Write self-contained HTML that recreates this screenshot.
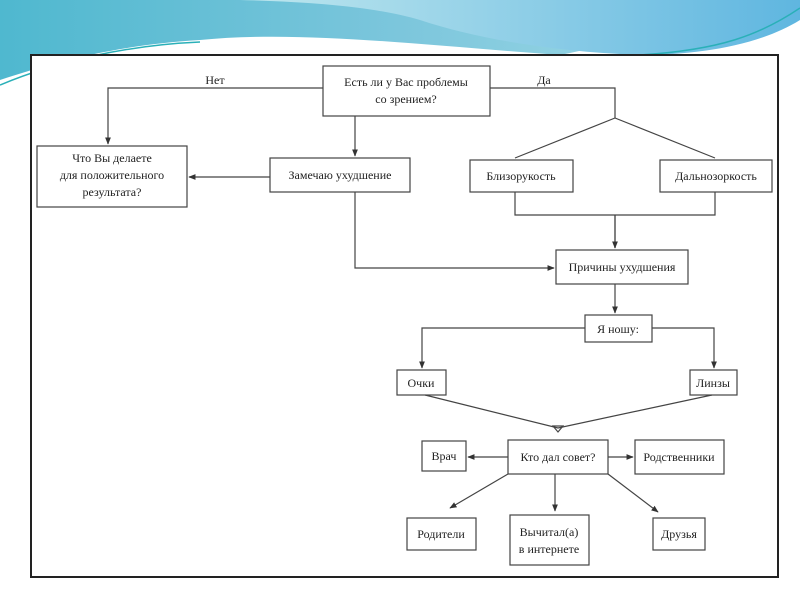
<!DOCTYPE html>
<html><head><meta charset="utf-8"><style>
html,body{margin:0;padding:0;width:800px;height:600px;overflow:hidden;background:#fff}
text{font-family:"Liberation Serif","DejaVu Serif",serif;font-size:12px;fill:#222}
</style></head><body>
<svg width="800" height="600" viewBox="0 0 800 600" xmlns="http://www.w3.org/2000/svg">
<defs>
<linearGradient id="g1" x1="0" y1="0" x2="1" y2="0">
<stop offset="0" stop-color="#4fb8cf"/><stop offset="0.5" stop-color="#7cc6dc"/><stop offset="1" stop-color="#a8dfe9"/>
</linearGradient>
<linearGradient id="g2" x1="0" y1="0" x2="1" y2="0">
<stop offset="0" stop-color="#bfe7ee"/><stop offset="1" stop-color="#5fb6e0"/>
</linearGradient>
<marker id="a" viewBox="0 0 10 10" refX="9" refY="5" markerWidth="6" markerHeight="6" orient="auto"><path d="M0,1 L10,5 L0,9 z" fill="#333"/></marker>
</defs>
<path d="M0,0 H800 V0 C700,10 640,40 560,55 C420,45 300,30 200,40 C120,45 60,60 0,80 Z" fill="url(#g1)"/>
<path d="M240,0 H800 V20 C760,45 700,55 640,55 C560,52 480,40 420,20 C380,8 320,2 240,0 Z" fill="url(#g2)"/>
<path d="M0,85 C60,60 130,45 200,42" stroke="#2ab0b8" stroke-width="1.5" fill="none"/>
<path d="M800,8 C760,35 720,50 640,55" stroke="#2ab0b8" stroke-width="1.5" fill="none"/>
<rect x="31" y="55" width="747" height="522" fill="#fff" stroke="#222" stroke-width="2"/>
<g stroke="#444" stroke-width="1.2" fill="none">
<rect x="323" y="66" width="167" height="50"/>
<rect x="37" y="146" width="150" height="61"/>
<rect x="270" y="158" width="140" height="34"/>
<rect x="470" y="160" width="103" height="32"/>
<rect x="660" y="160" width="112" height="32"/>
<rect x="556" y="250" width="132" height="34"/>
<rect x="585" y="315" width="67" height="27"/>
<rect x="397" y="370" width="49" height="25"/>
<rect x="690" y="370" width="47" height="25"/>
<rect x="508" y="440" width="100" height="34"/>
<rect x="422" y="441" width="44" height="30"/>
<rect x="635" y="440" width="89" height="34"/>
<rect x="407" y="518" width="69" height="32"/>
<rect x="510" y="515" width="79" height="50"/>
<rect x="653" y="518" width="52" height="32"/>
<path d="M323,88 H108 V144" marker-end="url(#a)"/>
<path d="M490,88 H615 V118"/>
<path d="M615,118 L515,158 M615,118 L715,158"/>
<path d="M355,116 V156" marker-end="url(#a)"/>
<path d="M270,177 H189" marker-end="url(#a)"/>
<path d="M515,192 V215 H715 V192 M615,215 V248" />
<path d="M615,215 V248" marker-end="url(#a)"/>
<path d="M355,192 V268 H554" marker-end="url(#a)"/>
<path d="M615,284 V313" marker-end="url(#a)"/>
<path d="M585,328 H422 V368" marker-end="url(#a)"/>
<path d="M652,328 H714 V368" marker-end="url(#a)"/>
<path d="M425,395 L558,428 L712,395"/>
<path d="M553,426 H563 L558,432 Z"/>
<path d="M508,457 H468" marker-end="url(#a)"/>
<path d="M608,457 H633" marker-end="url(#a)"/>
<path d="M508,474 L450,508" marker-end="url(#a)"/>
<path d="M555,474 V511" marker-end="url(#a)"/>
<path d="M608,474 L658,512" marker-end="url(#a)"/>
</g>
<g text-anchor="middle">
<text x="406" y="86">Есть ли у Вас проблемы</text>
<text x="406" y="103">со зрением?</text>
<text x="215" y="84">Нет</text>
<text x="544" y="84">Да</text>
<text x="112" y="162">Что Вы делаете</text>
<text x="112" y="179">для положительного</text>
<text x="112" y="196">результата?</text>
<text x="340" y="179">Замечаю ухудшение</text>
<text x="521" y="180">Близорукость</text>
<text x="716" y="180">Дальнозоркость</text>
<text x="622" y="271">Причины ухудшения</text>
<text x="618" y="333">Я ношу:</text>
<text x="421" y="387">Очки</text>
<text x="713" y="387">Линзы</text>
<text x="558" y="461">Кто дал совет?</text>
<text x="444" y="460">Врач</text>
<text x="679" y="461">Родственники</text>
<text x="441" y="538">Родители</text>
<text x="549" y="536">Вычитал(а)</text>
<text x="549" y="553">в интернете</text>
<text x="679" y="538">Друзья</text>
</g>
</svg>
</body></html>
